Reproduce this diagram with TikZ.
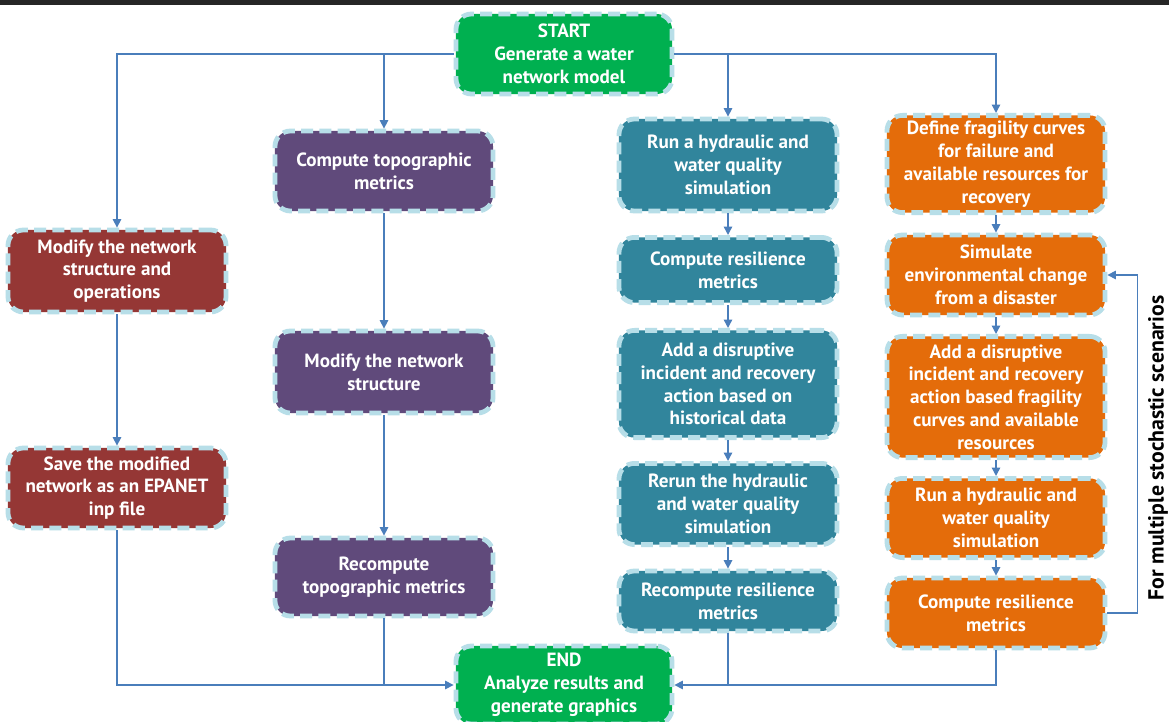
\documentclass[tikz,border=0pt]{standalone}
\usepackage{fontspec}
\setmainfont{PT Sans}
\usepackage{tikz}
\usetikzlibrary{arrows.meta}
\usepackage{xcolor}

\definecolor{termgreen}{HTML}{00B050}
\definecolor{redbox}{HTML}{953735}
\definecolor{purplebox}{HTML}{604A7B}
\definecolor{tealbox}{HTML}{31859C}
\definecolor{orangebox}{HTML}{E46C0A}
\definecolor{rimblue}{HTML}{B7DEE8}
\definecolor{flowblue}{HTML}{4A7EBB}

\begin{document}
\begin{tikzpicture}[
  x=0.025cm, y=-0.025cm,
  font=\fontsize{13.6}{16.2}\selectfont\bfseries,
  >={Triangle[length=6pt,width=6pt]},
  box/.style={rounded corners=11pt, draw=rimblue, line width=3.4pt,
    dash pattern=on 8.5pt off 4.5pt, text=white, align=center,
    minimum width=5.45cm, inner sep=2pt},
  flow/.style={->, draw=flowblue, line width=1pt},
  link/.style={draw=flowblue, line width=1pt},
]
  \useasboundingbox (0,0) rectangle (1169,722);
  \fill[white] (0,0) rectangle (1169,722);
  \fill[black!85] (0,0) rectangle (1169,5);

  % Start and end
  \node[box, fill=termgreen, minimum width=5.4cm, minimum height=2cm] (start) at (564,54)
    {START\\Generate a water\\network model};
  \node[box, fill=termgreen, minimum width=5.4cm, minimum height=1.95cm] (finish) at (564,685)
    {END\\Analyze results and\\generate graphics};

  % Network structure column
  \node[box, fill=redbox, minimum height=2.05cm] (modnet) at (117,271)
    {Modify the network\\structure and\\operations};
  \node[box, fill=redbox, minimum height=2cm] (savenet) at (117,488)
    {Save the modified\\network as an EPANET\\inp file};

  % Topographic column
  \node[box, fill=purplebox, minimum height=2cm] (comptopo) at (384,171)
    {Compute topographic\\metrics};
  \node[box, fill=purplebox, minimum height=2.05cm] (modstruct) at (384,372)
    {Modify the network\\structure};
  \node[box, fill=purplebox, minimum height=1.95cm] (recomptopo) at (384,577)
    {Recompute\\topographic metrics};

  % Historical data column
  \node[box, fill=tealbox, minimum height=2.3cm] (runhyd) at (728,165)
    {Run a hydraulic and\\water quality\\simulation};
  \node[box, fill=tealbox, minimum height=1.63cm] (compres) at (728,270)
    {Compute resilience\\metrics};
  \node[box, fill=tealbox, minimum height=2.68cm] (adddisr) at (728,384)
    {Add a disruptive\\incident and recovery\\action based on\\historical data};
  \node[box, fill=tealbox, minimum height=2.03cm] (rerun) at (728,504)
    {Rerun the hydraulic\\and water quality\\simulation};
  \node[box, fill=tealbox, minimum height=1.5cm] (recompres) at (728,601)
    {Recompute resilience\\metrics};

  % Stochastic column
  \node[box, fill=orangebox, minimum height=2.43cm] (deffrag) at (996,164)
    {Define fragility curves\\for failure and\\available resources for\\recovery};
  \node[box, fill=orangebox, minimum height=2cm] (simenv) at (996,275)
    {Simulate\\environmental change\\from a disaster};
  \node[box, fill=orangebox, minimum height=3.03cm] (addfrag) at (996,397)
    {Add a disruptive\\incident and recovery\\action based fragility\\curves and available\\resources};
  \node[box, fill=orangebox, minimum height=1.98cm] (runhyd2) at (996,518)
    {Run a hydraulic and\\water quality\\simulation};
  \node[box, fill=orangebox, minimum height=1.75cm] (compres2) at (996,613)
    {Compute resilience\\metrics};

  \node[rotate=90, font=\fontsize{15.5}{18}\selectfont\bfseries] (scen) at (1158,448)
    {For multiple stochastic scenarios};

  % Branches from start
  \draw[flow] (start.west) -| (modnet.north);
  \draw[flow] (start.west) -| (comptopo.north);
  \draw[flow] (start.east) -| (runhyd.north);
  \draw[flow] (start.east) -| (deffrag.north);

  % Steps down each column
  \draw[flow] (modnet) -- (savenet);
  \draw[flow] (comptopo) -- (modstruct);
  \draw[flow] (modstruct) -- (recomptopo);
  \draw[flow] (runhyd) -- (compres);
  \draw[flow] (compres) -- (adddisr);
  \draw[flow] (adddisr) -- (rerun);
  \draw[flow] (rerun) -- (recompres);
  \draw[flow] (deffrag) -- (simenv);
  \draw[flow] (simenv) -- (addfrag);
  \draw[flow] (addfrag) -- (runhyd2);
  \draw[flow] (runhyd2) -- (compres2);

  % Into the end box
  \draw[flow] (savenet.south) |- (finish.west);
  \draw[link] (recomptopo.south) -- (recomptopo.south |- finish.west);
  \draw[flow] (compres2.south) |- (finish.east);
  \draw[link] (recompres.south) -- (recompres.south |- finish.east);

  % Scenario loop
  \draw[flow] (compres2.east) -- ++(30,0) |- (simenv.east);
\end{tikzpicture}
\end{document}
